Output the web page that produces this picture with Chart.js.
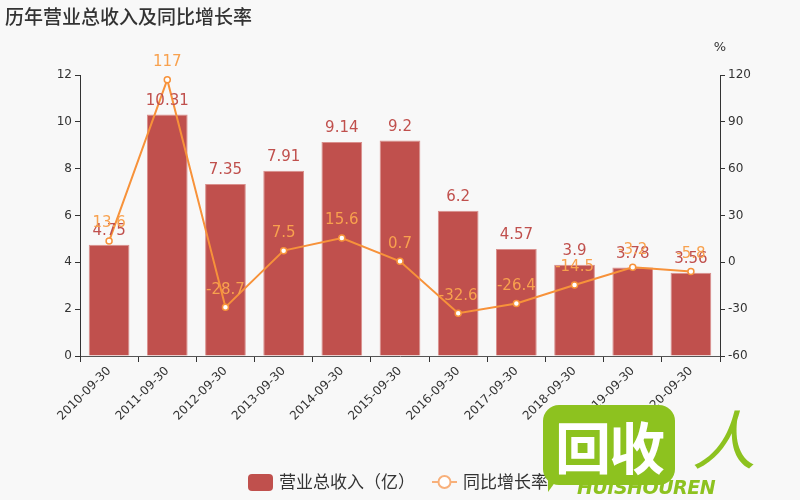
<!DOCTYPE html>
<html><head><meta charset="utf-8">
<script src="https://cdn.jsdelivr.net/npm/chart.js@4"></script>
<style>
html,body{margin:0;padding:0;background:#f8f8f8;}
#wrap{position:relative;width:800px;height:500px;overflow:hidden;}
canvas{display:block;}
#wm-box{position:absolute;left:543px;top:405px;width:132px;height:80px;background:#8dc21f;border-radius:16px;color:#fff;font:bold 56px "Noto Sans CJK SC";line-height:80px;text-align:center;letter-spacing:-2px;}
#wm-tail{position:absolute;left:548px;top:470px;width:0;height:0;border-left:16px solid #8dc21f;border-bottom:22px solid transparent;}
#wm-en{position:absolute;left:577px;top:476px;color:#8dc21f;font:italic 900 19px "DejaVu Sans";letter-spacing:-0.5px;}
#wm-ren{position:absolute;left:692px;top:396px;color:#8dc21f;font:italic 64px "Noto Sans CJK SC";line-height:80px;}
</style></head><body>
<div id="wrap"><canvas id="c" width="800" height="500"></canvas>
<div id="wm-tail"></div><div id="wm-box">回收</div><div id="wm-ren">人</div><div id="wm-en">HUISHOUREN</div></div>
<script>
const categories = ["2010-09-30","2011-09-30","2012-09-30","2013-09-30","2014-09-30","2015-09-30","2016-09-30","2017-09-30","2018-09-30","2019-09-30","2020-09-30"];
const revenue = [4.75,10.31,7.35,7.91,9.14,9.2,6.2,4.57,3.9,3.78,3.56];
const growth = [13.6,117,-28.7,7.5,15.6,0.7,-32.6,-26.4,-14.5,-3.2,-5.8];
const leftTicks = {min:0,max:12,step:2};
const rightTicks = {min:-60,max:120,step:30};
const titleText = "历年营业总收入及同比增长率";
const seriesNames = ["营业总收入（亿）","同比增长率"];

const FONT = '"DejaVu Sans","Noto Sans CJK SC",sans-serif';
const CJK = '"Noto Sans CJK SC","DejaVu Sans",sans-serif';
const BAR = '#c0504d';
const LINE = '#f7923a';

const extras = {
  id:'extras',
  afterDatasetsDraw(chart){
    const ctx = chart.ctx;
    ctx.save();
    ctx.textAlign='center';ctx.textBaseline='bottom';
    ctx.font='15px '+FONT;
    const mb = chart.getDatasetMeta(1);
    ctx.fillStyle=BAR;
    mb.data.forEach((el,i)=>{ctx.fillText(String(revenue[i]),el.x,el.y-6);});
    const ml = chart.getDatasetMeta(0);
    ctx.fillStyle='#f8a14e';
    ml.data.forEach((el,i)=>{ctx.fillText(String(growth[i]),el.x,el.y-10);});
    ctx.restore();
  },
  afterDraw(chart){
    const ctx=chart.ctx;
    ctx.save();
    ctx.fillStyle='#333';
    ctx.textBaseline='middle';ctx.textAlign='left';
    ctx.font='500 19px '+CJK;
    ctx.fillText(titleText,5,17);
    ctx.font='13px '+FONT;
    ctx.textAlign='center';
    ctx.fillText('%',chart.chartArea.right,48);
    // legend
    const ly=482;
    ctx.fillStyle=BAR;
    ctx.beginPath();
    if(ctx.roundRect){ctx.roundRect(248,474,25,17,4);}else{ctx.rect(248,474,25,17);}
    ctx.fill();
    ctx.fillStyle='#333';ctx.textAlign='left';
    ctx.font='17px '+CJK;
    ctx.fillText(seriesNames[0],279,ly);
    ctx.strokeStyle='#f8b07a';ctx.lineWidth=2;
    ctx.beginPath();ctx.moveTo(432,ly);ctx.lineTo(457,ly);ctx.stroke();
    ctx.beginPath();ctx.arc(444.5,ly,6,0,Math.PI*2);ctx.fillStyle='#fff';ctx.fill();ctx.stroke();
    ctx.fillStyle='#333';
    ctx.fillText(seriesNames[1],463,ly);
    ctx.restore();
  }
};

new Chart(document.getElementById('c'),{
  data:{
    labels:categories,
    datasets:[
      {type:'line',label:seriesNames[1],data:growth,yAxisID:'y1',order:1,
       borderColor:LINE,borderWidth:2,tension:0,pointRadius:3,pointBackgroundColor:'#fff',
       pointBorderColor:LINE,pointBorderWidth:1.5},
      {type:'bar',label:seriesNames[0],data:revenue,yAxisID:'y',order:2,
       backgroundColor:BAR,borderColor:'#d98f8c',borderWidth:{top:1,left:1,right:1,bottom:0},
       barPercentage:0.7,categoryPercentage:1}
    ]
  },
  options:{
    responsive:false,animation:false,devicePixelRatio:1,
    layout:{padding:{top:75,left:0,right:0,bottom:0}},
    plugins:{legend:{display:false},title:{display:false},tooltip:{enabled:false}},
    scales:{
      x:{offset:true,
         grid:{display:true,drawOnChartArea:false,offset:true,tickLength:6,color:'#333'},
         border:{display:true,color:'#555',width:1},
         ticks:{maxRotation:45,minRotation:45,autoSkip:false,color:'#333',font:{family:FONT,size:12},padding:2},
         afterFit(s){s.height=144;}},
      y:{position:'left',min:leftTicks.min,max:leftTicks.max,
         ticks:{stepSize:leftTicks.step,color:'#333',font:{family:FONT,size:12},padding:3},
         grid:{display:true,drawOnChartArea:false,tickLength:5,color:'#333'},
         border:{display:true,color:'#333'},
         afterFit(s){s.width=80;}},
      y1:{position:'right',min:rightTicks.min,max:rightTicks.max,
         ticks:{stepSize:rightTicks.step,color:'#333',font:{family:FONT,size:12},padding:3},
         grid:{display:true,drawOnChartArea:false,tickLength:5,color:'#333'},
         border:{display:true,color:'#333'},
         afterFit(s){s.width=80;}}
    }
  },
  plugins:[extras]
});
</script></body></html>
